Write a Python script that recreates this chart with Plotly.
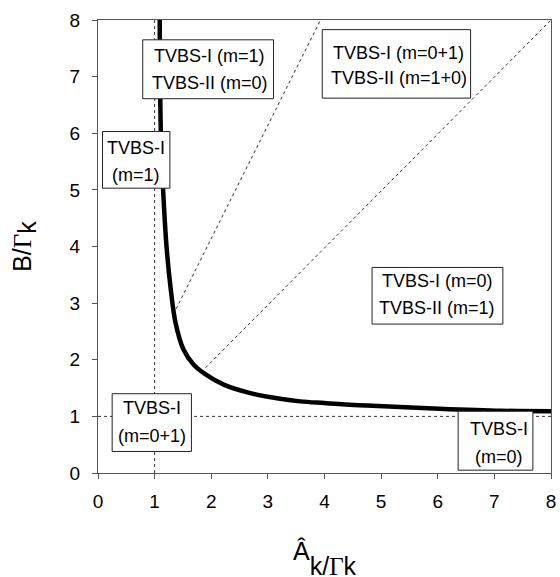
import plotly.graph_objects as go

# ---- data ----
curve_x = [1.09, 1.11, 1.15, 1.21, 1.29, 1.37, 1.51, 1.69, 1.90, 2.22, 2.69, 3.16, 3.57, 4.0, 4.75, 5.93, 7.11, 8.0]
curve_y = [8.0, 6.0, 5.0, 4.0, 3.2, 2.65, 2.18, 1.91, 1.74, 1.56, 1.41, 1.32, 1.265, 1.235, 1.19, 1.14, 1.10, 1.09]

diag1_x = [1.90, 8.0]
diag1_y = [1.86, 8.0]
diag2_x = [1.38, 3.93]
diag2_y = [2.90, 8.0]
vline_x = [1, 1]
vline_y = [0, 8]
hline_x = [0, 8]
hline_y = [1, 1]

tick_vals = [0, 1, 2, 3, 4, 5, 6, 7, 8]
tick_text = ["0", "1", "2", "3", "4", "5", "6", "7", "8"]

label_lines = [
    ["TVBS-I (m=1)", "TVBS-II (m=0)"],
    ["TVBS-I (m=0+1)", "TVBS-II (m=1+0)"],
    ["TVBS-I", "(m=1)"],
    ["TVBS-I (m=0)", "TVBS-II (m=1)"],
    ["TVBS-I", "(m=0+1)"],
    ["TVBS-I", "(m=0)"],
]

# ---- layout of the label boxes (x0, x1, y0, y1, text x, line1 y, line2 y) ----
box_layout = [
    (0.79, 3.10, 6.61, 7.65, 1.97, 7.36, 6.89),
    (3.96, 6.58, 6.62, 7.83, 5.31, 7.42, 6.98),
    (0.08, 1.27, 5.03, 6.03, 0.67, 5.74, 5.27),
    (4.84, 7.15, 2.63, 3.63, 5.99, 3.39, 2.92),
    (0.25, 1.65, 0.38, 1.40, 0.95, 1.14, 0.65),
    (6.36, 7.68, 0.05, 1.09, 7.09, 0.78, 0.29),
]

FONT = "Liberation Sans, Arial, sans-serif"
dot_style = dict(color="#333333", width=1, dash="dot")

fig = go.Figure()
for xs, ys in [(vline_x, vline_y), (hline_x, hline_y), (diag1_x, diag1_y), (diag2_x, diag2_y)]:
    fig.add_trace(go.Scatter(x=xs, y=ys, mode="lines", line=dot_style,
                             hoverinfo="skip", showlegend=False))
fig.add_trace(go.Scatter(x=curve_x, y=curve_y, mode="lines",
                         line=dict(color="black", width=4.5, shape="spline", smoothing=1.0),
                         showlegend=False))

shapes = []
annotations = []
for (x0, x1, y0, y1, tx, ly1, ly2), lines in zip(box_layout, label_lines):
    shapes.append(dict(type="rect", xref="x", yref="y", x0=x0, x1=x1, y0=y0, y1=y1,
                       line=dict(color="#222222", width=1), fillcolor="white", layer="above"))
    for ly, txt in zip((ly1, ly2), lines):
        annotations.append(dict(x=tx, y=ly, xref="x", yref="y", text=txt, showarrow=False,
                                xanchor="center", yanchor="middle",
                                font=dict(family=FONT, size=18, color="black")))

# axis titles
annotations.append(dict(
    xref="paper", yref="paper", x=-0.1626, y=0.5, textangle=-90,
    xanchor="center", yanchor="middle", showarrow=False,
    text="B/<span style='font-family:Liberation Serif'>Γ</span><sub><span style='font-size:25px'>k</span></sub>",
    font=dict(family=FONT, size=25, color="black")))
annotations.append(dict(
    xref="paper", yref="paper", x=0.5, y=-0.189,
    xanchor="center", yanchor="middle", showarrow=False,
    text="<span style='font-size:36px'><sup><span style='font-size:25px'>Â</span></sup></span>k/<span style='font-family:Liberation Serif'>Γ</span>k",
    font=dict(family=FONT, size=25, color="black")))

axis_common = dict(range=[0, 8], tickvals=tick_vals, ticktext=tick_text,
                   ticks="outside", ticklen=5, tickcolor="#555555", tickwidth=1,
                   showline=True, linecolor="#555555", linewidth=1, mirror=True,
                   showgrid=False, zeroline=False, automargin=False,
                   tickfont=dict(family=FONT, size=19, color="black"))

fig.update_layout(
    width=560, height=577,
    margin=dict(l=98, r=9, t=20, b=104),
    paper_bgcolor="white", plot_bgcolor="white",
    xaxis=dict(**axis_common, ticklabelstandoff=6),
    yaxis=dict(**axis_common, ticklabelstandoff=8),
    shapes=shapes, annotations=annotations,
)

fig.write_html(
    "out.html",
    config={"displayModeBar": False},
    post_script="document.body.style.margin='0';document.body.style.overflow='hidden';",
)
